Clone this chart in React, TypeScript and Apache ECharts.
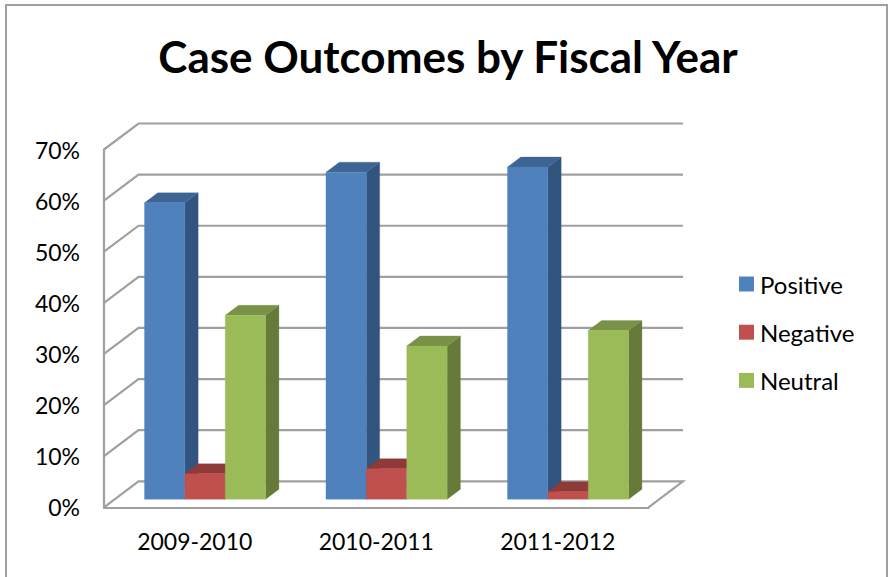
import React, { useEffect, useRef } from "react";
import * as echarts from "echarts";

const categories = ["2009-2010", "2010-2011", "2011-2012"];
const positive = [58, 64, 65];
const negative = [5, 6, 1.5];
const neutral = [36, 30, 33];
const ticks = [0, 10, 20, 30, 40, 50, 60, 70];

const FONT = "Lato";
const GREY = "#a0a0a0";
const LINE = 2.2;
const BAR_SHIFT_X = 10.3;
const BAR_SHIFT_Y = -8;
const DEPTH_X = 13.3;
const DEPTH_Y = -10;
const WALL_X = 34.5;
const WALL_Y = -26;
const BAR_FRACTION = 0.2225;

function barSeries(name: string, values: number[], slot: number, front: string, top: string, side: string) {
  return {
    name,
    type: "custom",
    coordinateSystem: "cartesian2d",
    silent: true,
    z: 3 + slot,
    itemStyle: { color: front },
    encode: { x: 0, y: 1 },
    data: values.map((v, i) => [i, v]),
    renderItem: (_params: any, api: any) => {
      const band = api.size([1, 0])[0];
      const w = band * BAR_FRACTION;
      const [cx, vy] = api.coord([api.value(0), api.value(1)]);
      const [, by] = api.coord([api.value(0), 0]);
      const x0 = cx + BAR_SHIFT_X - w * 1.5 + slot * w;
      const x1 = x0 + w;
      const yT = vy + BAR_SHIFT_Y;
      const yB = by + BAR_SHIFT_Y;
      const poly = (points: number[][], fill: string) => ({
        type: "polygon",
        shape: { points },
        style: { fill, stroke: fill, lineWidth: 0.3 },
      });
      return {
        type: "group",
        children: [
          poly([[x1, yT], [x1 + DEPTH_X, yT + DEPTH_Y], [x1 + DEPTH_X, yB + DEPTH_Y], [x1, yB]], side),
          poly([[x0, yT], [x0 + DEPTH_X, yT + DEPTH_Y], [x1 + DEPTH_X, yT + DEPTH_Y], [x1, yT]], top),
          poly([[x0, yT], [x1, yT], [x1, yB], [x0, yB]], front),
        ],
      };
    },
  };
}

export default function App() {
  const ref = useRef<HTMLDivElement>(null);
  useEffect(() => {
    const chart = echarts.init(ref.current!, null, { renderer: "svg" });
    chart.setOption({
      animation: false,
      backgroundColor: "#ffffff",
      textStyle: { fontFamily: FONT },
      title: {
        text: "Case Outcomes by Fiscal Year",
        left: 443,
        top: 29,
        textAlign: "center",
        textStyle: { fontFamily: FONT, fontWeight: "bold", fontSize: 44, color: "#000000" },
      },
      legend: {
        left: 734,
        top: 267,
        orient: "vertical",
        icon: "rect",
        itemWidth: 15,
        itemHeight: 15,
        itemGap: 24.2,
        selectedMode: false,
        data: ["Positive", "Negative", "Neutral"],
        textStyle: { fontFamily: FONT, fontSize: 24, color: "#000000", padding: [0, 0, 0, 1] },
      },
      grid: { left: 104, right: 239.5, top: 149.5, bottom: 69.7 },
      xAxis: {
        type: "category",
        data: categories,
        axisLine: { show: true, lineStyle: { color: GREY, width: LINE } },
        axisTick: { show: false },
        axisLabel: { fontFamily: FONT, fontSize: 23, color: "#000000", margin: 22 },
      },
      yAxis: {
        type: "value",
        min: 0,
        max: 70,
        interval: 10,
        axisLine: { show: true, lineStyle: { color: GREY, width: LINE } },
        axisTick: { show: false },
        splitLine: { show: false },
        axisLabel: { fontFamily: FONT, fontSize: 23, color: "#000000", margin: 24, padding: [2, 0, 0, 0], formatter: "{value}%" },
      },
      graphic: [
        {
          type: "polyline",
          shape: { points: [[6, 577], [6, 5], [887, 5], [887, 577]] },
          style: { fill: "none", stroke: GREY, lineWidth: 2 },
          silent: true,
        },
      ],
      series: [
        {
          name: "wall",
          type: "custom",
          coordinateSystem: "cartesian2d",
          silent: true,
          z: 1,
          encode: { x: 0, y: 1 },
          data: ticks.map((t) => [0, t]),
          renderItem: (params: any, api: any) => {
            const cs = params.coordSys;
            const y = api.coord([0, api.value(1)])[1];
            const x0 = cs.x;
            const x1 = cs.x + cs.width;
            const points =
              api.value(1) === 0
                ? [[x1, y], [x1 + WALL_X, y + WALL_Y], [x0 + WALL_X, y + WALL_Y], [x0, y]]
                : [[x0, y], [x0 + WALL_X, y + WALL_Y], [x1 + WALL_X, y + WALL_Y]];
            return {
              type: "polyline",
              shape: { points },
              style: { fill: "none", stroke: GREY, lineWidth: LINE },
            };
          },
        },
        barSeries("Positive", positive, 0, "#4f81bd", "#3c6594", "#31557f"),
        barSeries("Negative", negative, 1, "#c0504d", "#8f3a39", "#7f3331"),
        barSeries("Neutral", neutral, 2, "#9bbb59", "#7a9148", "#667a3a"),
      ],
    });
    return () => chart.dispose();
  }, []);
  return <div ref={ref} style={{ position: "absolute", left: 0, top: 0, width: 888, height: 577 }} />;
}
